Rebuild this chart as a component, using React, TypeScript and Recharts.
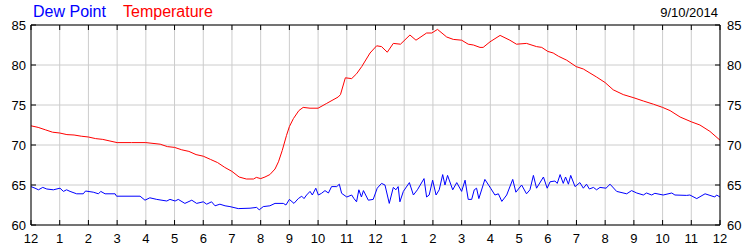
import { LineChart, Line, XAxis, YAxis, CartesianGrid } from "recharts";

const FONT = "'Liberation Sans', Arial, sans-serif";

const hourTicks = [0, 1, 2, 3, 4, 5, 6, 7, 8, 9, 10, 11, 12, 13, 14, 15, 16, 17, 18, 19, 20, 21, 22, 23, 24];
const hourLabels = ["12", "1", "2", "3", "4", "5", "6", "7", "8", "9", "10", "11", "12", "1", "2", "3", "4", "5", "6", "7", "8", "9", "10", "11", "12"];
const tempTicks = [60, 65, 70, 75, 80, 85];

// temperature, hours since midnight
const tempHours = [
  0, 0.25, 0.5, 0.75, 1, 1.25, 1.5, 1.75, 2, 2.25, 2.5, 2.75, 3, 3.5, 4, 4.25, 4.5, 4.75, 5, 5.25,
  5.5, 5.75, 6, 6.25, 6.5, 6.75, 7, 7.25, 7.5, 7.75, 7.85, 8, 8.15, 8.32, 8.5, 8.62, 8.75, 8.9, 9.0, 9.14,
  9.33, 9.48, 9.72, 10.0, 10.3, 10.7, 10.78, 10.95, 11.17, 11.34, 11.52, 11.81, 12.04, 12.21, 12.41, 12.62, 12.87, 13.2, 13.41, 13.78,
  13.96, 14.16, 14.48, 14.71, 15.0, 15.23, 15.41, 15.64, 15.75, 15.99, 16.34, 16.68, 16.91, 17.26, 17.61, 17.79, 18.0, 18.19, 18.37, 18.66,
  18.99, 19.24, 19.47, 19.7, 20.0, 20.28, 20.63, 21.0, 21.33, 21.68, 22.0, 22.26, 22.61, 23.0, 23.3, 23.65, 24.0,
];
const tempValues = [
  72.4, 72.2, 71.9, 71.6, 71.5, 71.3, 71.25, 71.1, 71.0, 70.8, 70.7, 70.5, 70.3, 70.3, 70.3, 70.2, 70.1, 69.8, 69.7, 69.4,
  69.2, 68.8, 68.6, 68.2, 67.8, 67.2, 66.7, 66.0, 65.75, 65.75, 65.95, 65.8, 66.0, 66.3, 67.0, 67.9, 69.3, 71.2, 72.3, 73.3,
  74.3, 74.7, 74.6, 74.6, 75.2, 76.0, 76.3, 78.4, 78.3, 78.9, 79.8, 81.5, 82.4, 82.3, 81.6, 82.7, 82.6, 83.75, 83.1, 84.0,
  84.0, 84.45, 83.5, 83.2, 83.1, 82.6, 82.5, 82.2, 82.2, 82.9, 83.7, 83.1, 82.6, 82.7, 82.3, 82.2, 81.7, 81.5, 81.1, 80.6,
  79.8, 79.5, 79.0, 78.5, 77.8, 76.9, 76.3, 75.9, 75.5, 75.1, 74.7, 74.3, 73.5, 72.9, 72.5, 71.7, 70.6,
];

// dew point, hours since midnight
const dewHours = [
  0, 0.14, 0.26, 0.41, 0.55, 0.78, 1.01, 1.13, 1.24, 1.36, 1.59, 1.82, 1.9, 2.17, 2.35, 2.43, 2.58, 2.93, 2.98, 3.8,
  3.97, 4.14, 4.38, 4.73, 4.84, 5.02, 5.13, 5.36, 5.6, 5.77, 6.0, 6.12, 6.29, 6.41, 6.58, 6.76, 6.93, 7.22, 7.63, 7.86,
  7.95, 8.09, 8.32, 8.5, 8.79, 8.88, 9.0, 9.16, 9.31, 9.43, 9.51, 9.6, 9.72, 9.8, 9.92, 10.01, 10.12, 10.24, 10.36, 10.47,
  10.65, 10.74, 10.82, 11.0, 11.17, 11.25, 11.34, 11.42, 11.51, 11.58, 11.75, 11.92, 12.06, 12.21, 12.33, 12.48, 12.62, 12.71, 12.79, 12.85,
  12.97, 13.18, 13.32, 13.46, 13.69, 13.78, 13.87, 13.99, 14.11, 14.22, 14.34, 14.42, 14.51, 14.69, 14.83, 15.0, 15.12, 15.23, 15.35, 15.44,
  15.52, 15.6, 15.81, 16.01, 16.16, 16.28, 16.4, 16.57, 16.78, 16.89, 17.09, 17.26, 17.38, 17.5, 17.61, 17.85, 17.98, 18.08, 18.25, 18.33,
  18.43, 18.54, 18.62, 18.72, 18.8, 18.95, 19.12, 19.24, 19.35, 19.45, 19.59, 19.7, 19.82, 20.03, 20.17, 20.4, 20.75, 20.92, 21.1, 21.33,
  21.44, 21.62, 21.73, 22.02, 22.32, 22.43, 22.84, 22.95, 23.19, 23.48, 23.65, 23.82, 23.88, 24.0,
];
const dewValues = [
  64.8, 64.6, 64.4, 64.7, 64.5, 64.4, 64.6, 64.2, 64.4, 64.2, 63.9, 63.9, 64.25, 64.1, 63.9, 64.2, 63.9, 63.9, 63.6, 63.6,
  63.1, 63.4, 63.2, 63.0, 63.2, 63.0, 63.2, 62.7, 63.1, 62.7, 62.9, 62.6, 62.9, 62.4, 62.6, 62.4, 62.3, 62.05, 62.1, 62.2,
  61.9, 62.3, 62.4, 62.7, 62.7, 62.5, 63.2, 62.7, 63.3, 63.6, 63.3, 63.75, 64.2, 63.75, 64.6, 63.75, 63.96, 64.3, 64.0, 64.8,
  64.8, 65.1, 63.96, 63.5, 63.75, 63.3, 62.9, 64.4, 63.5, 64.3, 63.1, 63.2, 64.6, 65.2, 65.0, 62.7, 64.7, 64.4, 64.8, 62.9,
  64.2, 65.3, 63.75, 64.4, 65.8, 63.5, 63.75, 65.6, 63.75, 64.4, 66.3, 65.0, 66.2, 64.4, 65.3, 64.2, 65.6, 63.2, 63.2, 64.4,
  64.6, 63.3, 65.7, 64.6, 63.75, 63.9, 62.95, 63.75, 65.7, 64.1, 65.0, 63.9, 64.4, 66.2, 64.6, 66.0, 64.6, 65.4, 65.5, 65.2,
  66.3, 65.2, 66.0, 65.1, 66.2, 64.8, 65.3, 64.6, 65.1, 64.5, 64.7, 64.4, 64.7, 64.6, 65.1, 64.2, 63.9, 64.3, 64.0, 63.75,
  64.0, 63.75, 63.96, 63.75, 64.0, 63.75, 63.7, 63.75, 63.3, 63.9, 63.7, 63.5, 63.75, 63.5,
];

const tempData = tempHours.map((h, i) => ({ h, v: tempValues[i] }));
const dewData = dewHours.map((h, i) => ({ h, v: dewValues[i] }));

const BottomTick = ({ x, y, payload }: any) => (
  <g>
    <line x1={x} x2={x} y1={y - 5} y2={y} stroke="#000" />
    <text x={x} y={y + 13} dy="0.355em" textAnchor="middle" fontSize={13} fontFamily={FONT} fill="#000">
      {hourLabels[payload.index] ?? hourLabels[hourTicks.indexOf(payload.value)]}
    </text>
  </g>
);

const TopTick = ({ x, y }: any) => <line x1={x} x2={x} y1={y} y2={y + 5} stroke="#000" />;

const LeftTick = ({ x, y, payload }: any) => (
  <g>
    <line x1={x} x2={x + 5} y1={y} y2={y} stroke="#000" />
    <text x={x - 5} y={y} dy="0.355em" textAnchor="end" fontSize={13} fontFamily={FONT} fill="#000">
      {payload.value}
    </text>
  </g>
);

const RightTick = ({ x, y, payload }: any) => (
  <g>
    <line x1={x - 5} x2={x} y1={y} y2={y} stroke="#000" />
    <text x={x + 7} y={y} dy="0.355em" textAnchor="start" fontSize={13} fontFamily={FONT} fill="#000">
      {payload.value}
    </text>
  </g>
);

export default function App() {
  return (
    <div style={{ position: "absolute", left: 0, top: 0, width: 750, height: 250, background: "#fff" }}>
      <LineChart width={750} height={250} margin={{ top: 0, right: 0, bottom: 0, left: 0 }}>
        <CartesianGrid stroke="#cccccc" />
        <XAxis
          dataKey="h"
          type="number"
          domain={[0, 24]}
          ticks={hourTicks}
          interval={0}
          height={25}
          stroke="#000"
          tickSize={0}
          tickMargin={0}
          tick={<BottomTick />}
        />
        <XAxis
          xAxisId="top"
          orientation="top"
          dataKey="h"
          type="number"
          domain={[0, 24]}
          ticks={hourTicks}
          interval={0}
          height={25}
          stroke="#000"
          tickSize={0}
          tickMargin={0}
          tick={<TopTick />}
        />
        <YAxis
          type="number"
          domain={[60, 85]}
          ticks={tempTicks}
          interval={0}
          width={31}
          stroke="#000"
          tickSize={0}
          tickMargin={0}
          tick={<LeftTick />}
        />
        <YAxis
          yAxisId="right"
          orientation="right"
          type="number"
          domain={[60, 85]}
          ticks={tempTicks}
          interval={0}
          width={30}
          stroke="#000"
          tickSize={0}
          tickMargin={0}
          tick={<RightTick />}
        />
        <Line data={dewData} dataKey="v" type="linear" stroke="#0000ff" strokeWidth={1} dot={false} isAnimationActive={false} />
        <Line data={tempData} dataKey="v" type="linear" stroke="#ff0000" strokeWidth={1} dot={false} isAnimationActive={false} />
        <Line xAxisId="top" yAxisId="right" data={tempData} dataKey="v" stroke="none" dot={false} isAnimationActive={false} />
      </LineChart>
      <svg width={750} height={250} style={{ position: "absolute", left: 0, top: 0, pointerEvents: "none" }}>
        <text x={33} y={17} fontSize={16} fontFamily={FONT} fill="#0000ff">Dew Point</text>
        <text x={123} y={17} fontSize={16} fontFamily={FONT} fill="#ff0000">Temperature</text>
        <text x={718} y={16.5} textAnchor="end" fontSize={13} fontFamily={FONT} fill="#000">9/10/2014</text>
      </svg>
    </div>
  );
}
